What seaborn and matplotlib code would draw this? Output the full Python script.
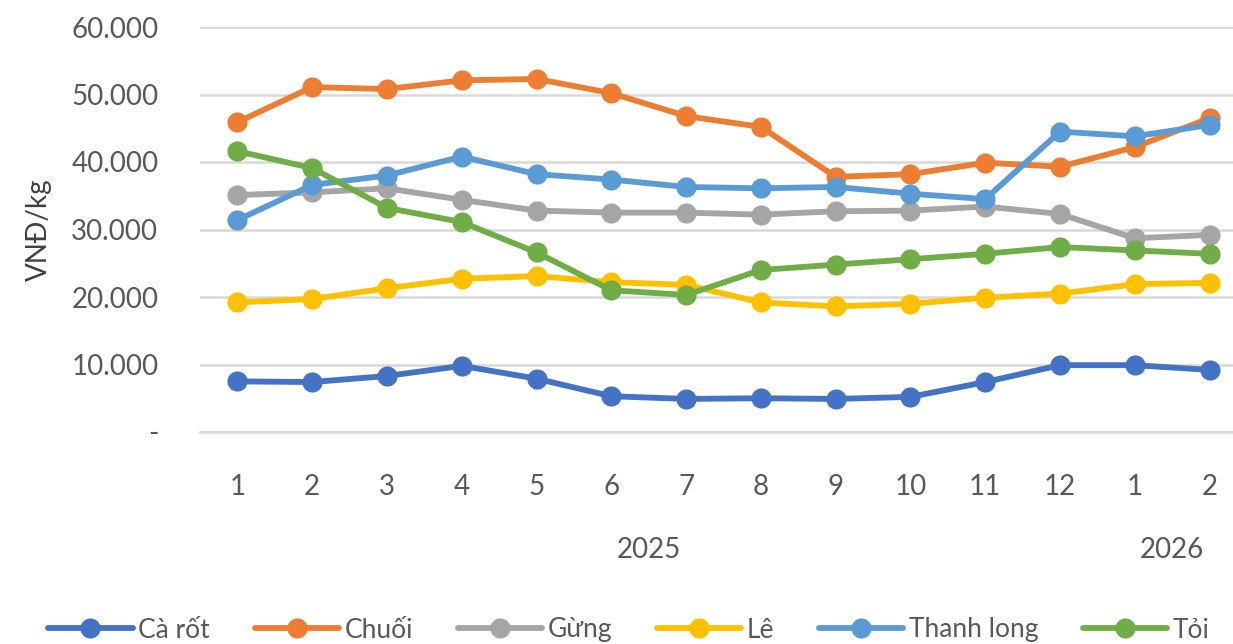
import pandas as pd
import seaborn as sns
import matplotlib.pyplot as plt
from matplotlib.ticker import FuncFormatter

# Monthly prices (VND/kg), Jan 2025 -> Feb 2026
months = ["1", "2", "3", "4", "5", "6", "7", "8", "9", "10", "11", "12", "1", "2"]
ca_rot = [7500, 7400, 8300, 9800, 7900, 5300, 4900, 5000, 4900, 5200, 7400, 9900, 9900, 9200]
chuoi = [45900, 51100, 50800, 52100, 52300, 50200, 46800, 45200, 37800, 38200, 39900, 39300, 42200, 46500]
gung = [35100, 35500, 36100, 34400, 32800, 32500, 32500, 32200, 32700, 32800, 33400, 32300, 28700, 29200]
le = [19200, 19700, 21300, 22700, 23100, 22200, 21800, 19200, 18600, 19000, 19900, 20500, 21900, 22100]
thanh_long = [31400, 36600, 38000, 40800, 38200, 37400, 36300, 36100, 36300, 35300, 34500, 44500, 43800, 45500]
toi = [41600, 39100, 33200, 31100, 26600, 21000, 20300, 24000, 24800, 25600, 26400, 27400, 26900, 26400]

series_names = ["Cà rốt", "Chuối", "Gừng", "Lê", "Thanh long", "Tỏi"]
colors = ["#4472C4", "#ED7D31", "#A5A5A5", "#FFC000", "#5B9BD5", "#70AD47"]

values = [ca_rot, chuoi, gung, le, thanh_long, toi]
rows = []
for name, vals in zip(series_names, values):
    for i, v in enumerate(vals):
        rows.append({"pos": i + 1, "series": name, "price": v})
df = pd.DataFrame(rows)

sns.set_style("white")
plt.rcParams["font.family"] = ["Lato", "DejaVu Sans"]
text_color = "#595959"

fig = plt.figure(figsize=(12.33, 6.44), dpi=100)
ax = fig.add_axes([200 / 1233, 1 - 432 / 644, (1247 - 200) / 1233, (432 - 27) / 644])

sns.lineplot(data=df, x="pos", y="price", hue="series", hue_order=series_names,
             palette=colors, marker="o", markersize=14.5, markeredgewidth=0,
             linewidth=4.2, ax=ax, legend=True)

ax.set_xlim(0.5, 14.5)
ax.set_ylim(0, 60000)
ax.set_yticks(range(0, 60001, 10000))
ax.yaxis.set_major_formatter(FuncFormatter(
    lambda v, p: "-" if v == 0 else f"{int(v):,}".replace(",", ".")))
ax.set_xticks(range(1, 15))
ax.set_xticklabels(months)

ax.grid(axis="y", color="#d9d9d9", linewidth=1.8)
ax.set_axisbelow(True)
for s in ["top", "right", "left"]:
    ax.spines[s].set_visible(False)
ax.spines["bottom"].set_color("#d9d9d9")
ax.spines["bottom"].set_linewidth(1.8)

ax.tick_params(axis="y", length=0, pad=30, labelsize=20, labelcolor=text_color)
ax.tick_params(axis="x", length=0, pad=30, labelsize=20, labelcolor=text_color)
ax.set_xlabel("")
ax.set_ylabel("VNĐ/kg", fontsize=20, color="#404040", labelpad=14)

# year labels under the month ticks
ax.text(6.5, -17500, "2025", ha="center", va="center", fontsize=20, color=text_color)
ax.text(13.5, -17500, "2026", ha="center", va="center", fontsize=20, color=text_color)

handles, labels = ax.get_legend_handles_labels()
ax.get_legend().remove()
fig.legend(handles, labels, loc="center", bbox_to_anchor=(0.51, 14 / 644), ncol=6,
           frameon=False, fontsize=19, handlelength=3.2, handletextpad=0.2,
           columnspacing=1.7, labelcolor=text_color)

fig.savefig("out.png", dpi=100)
